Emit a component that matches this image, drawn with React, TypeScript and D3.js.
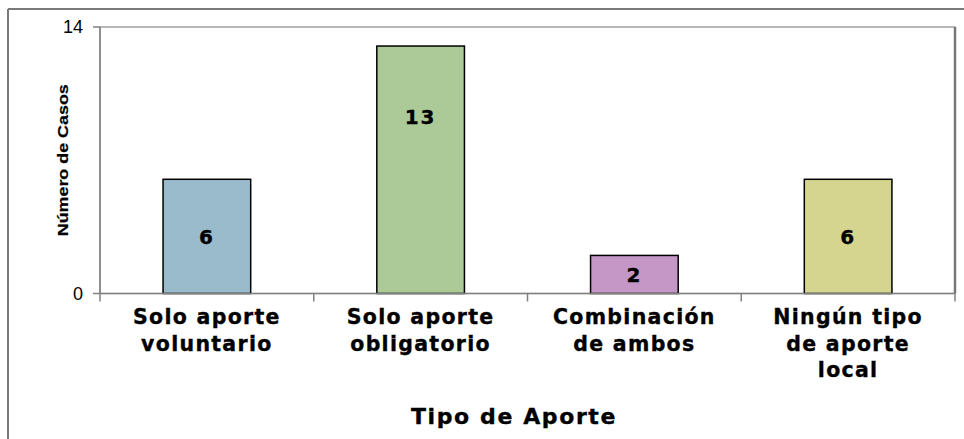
import React from "react";
import * as d3 from "d3";

const categories: string[][] = [
  ["Solo aporte", "voluntario"],
  ["Solo aporte", "obligatorio"],
  ["Combinación", "de ambos"],
  ["Ningún tipo", "de aporte", "local"],
];
const values: number[] = [6, 13, 2, 6];
const labelAt: number[] = [3, 9.3, 1, 3];
const colors: string[] = ["#99BBCC", "#ABCA97", "#C497C6", "#D6D590"];
const yTicks: number[] = [0, 14];
const yTitle = "Número de Casos";
const xTitle = "Tipo de Aporte";

export default function App() {
  const W = 964, H = 439;
  const left = 100, right = 955, top = 27, bottom = 293.5;
  const x = d3.scaleBand<number>().domain(d3.range(values.length)).range([left, right]).paddingInner(0.59).paddingOuter(0.295);
  const xb = d3.scaleBand<number>().domain(d3.range(values.length)).range([left, right]);
  const y = d3.scaleLinear().domain([0, 14]).range([bottom, top]);
  const font = "Verdana, 'DejaVu Sans', sans-serif";
  const heavy = { stroke: "#000", strokeWidth: 0.35 };
  return (
    <svg width={W} height={H} style={{ position: "absolute", left: 0, top: 0, background: "#fff" }}>
      <line x1={8} y1={9} x2={W} y2={9} stroke="#7a7a7a" strokeWidth={2} />
      <line x1={8} y1={9} x2={8} y2={H} stroke="#7a7a7a" strokeWidth={2} />
      <rect x={left} y={top} width={right - left} height={bottom - top} fill="none" stroke="#888" strokeWidth={1.2} />
      <line x1={right} y1={top} x2={right} y2={bottom} stroke="#777" strokeWidth={2.5} />
      {values.map((v, i) => (
        <g key={i}>
          <rect x={x(i)} y={y(v)} width={x.bandwidth()} height={y(0) - y(v)} fill={colors[i]} stroke="#000" strokeWidth={1.5} />
          <text x={x(i)! + x.bandwidth() / 2} y={y(labelAt[i])} dy="0.36em" textAnchor="middle" fontFamily={font} fontWeight="bold" fontSize={20} letterSpacing={2} fill="#000" {...heavy}>{v}</text>
        </g>
      ))}
      <line x1={left} y1={bottom} x2={right} y2={bottom} stroke="#808080" strokeWidth={1.5} />
      <line x1={left} y1={top} x2={left} y2={bottom} stroke="#808080" strokeWidth={1.5} />
      {yTicks.map((t) => (
        <g key={t}>
          <line x1={left - 7} x2={left} y1={y(t)} y2={y(t)} stroke="#808080" strokeWidth={1.5} />
          <text x={left - 17} y={y(t)} dy="0.36em" textAnchor="end" fontFamily="Arial, 'Liberation Sans', sans-serif" fontSize={18} fill="#000">{t}</text>
        </g>
      ))}
      {d3.range(values.length + 1).map((i) => {
        const xx = i < values.length ? xb(i)! : right;
        return <line key={i} x1={xx} x2={xx} y1={bottom} y2={bottom + 8} stroke="#808080" strokeWidth={1.5} />;
      })}
      {categories.map((lines, i) => (
        <text key={i} textAnchor="middle" fontFamily={font} fontWeight="bold" fontSize={20.5} letterSpacing={1.3} fill="#000" {...heavy}>
          {lines.map((l, j) => (
            <tspan key={j} x={xb(i)! + xb.bandwidth() / 2} y={324 + j * 26.5}>{l}</tspan>
          ))}
        </text>
      ))}
      <text transform={`translate(68,${(top + bottom) / 2}) rotate(-90)`} textAnchor="middle" fontFamily="Arial, 'Liberation Sans', sans-serif" fontWeight="bold" fontSize={15} fill="#000" stroke="#000" strokeWidth={0.2} textLength={152} lengthAdjust="spacingAndGlyphs">{yTitle}</text>
      <text x={514} y={424} textAnchor="middle" fontFamily={font} fontWeight="bold" fontSize={22} letterSpacing={1.6} fill="#000" {...heavy}>{xTitle}</text>
    </svg>
  );
}
